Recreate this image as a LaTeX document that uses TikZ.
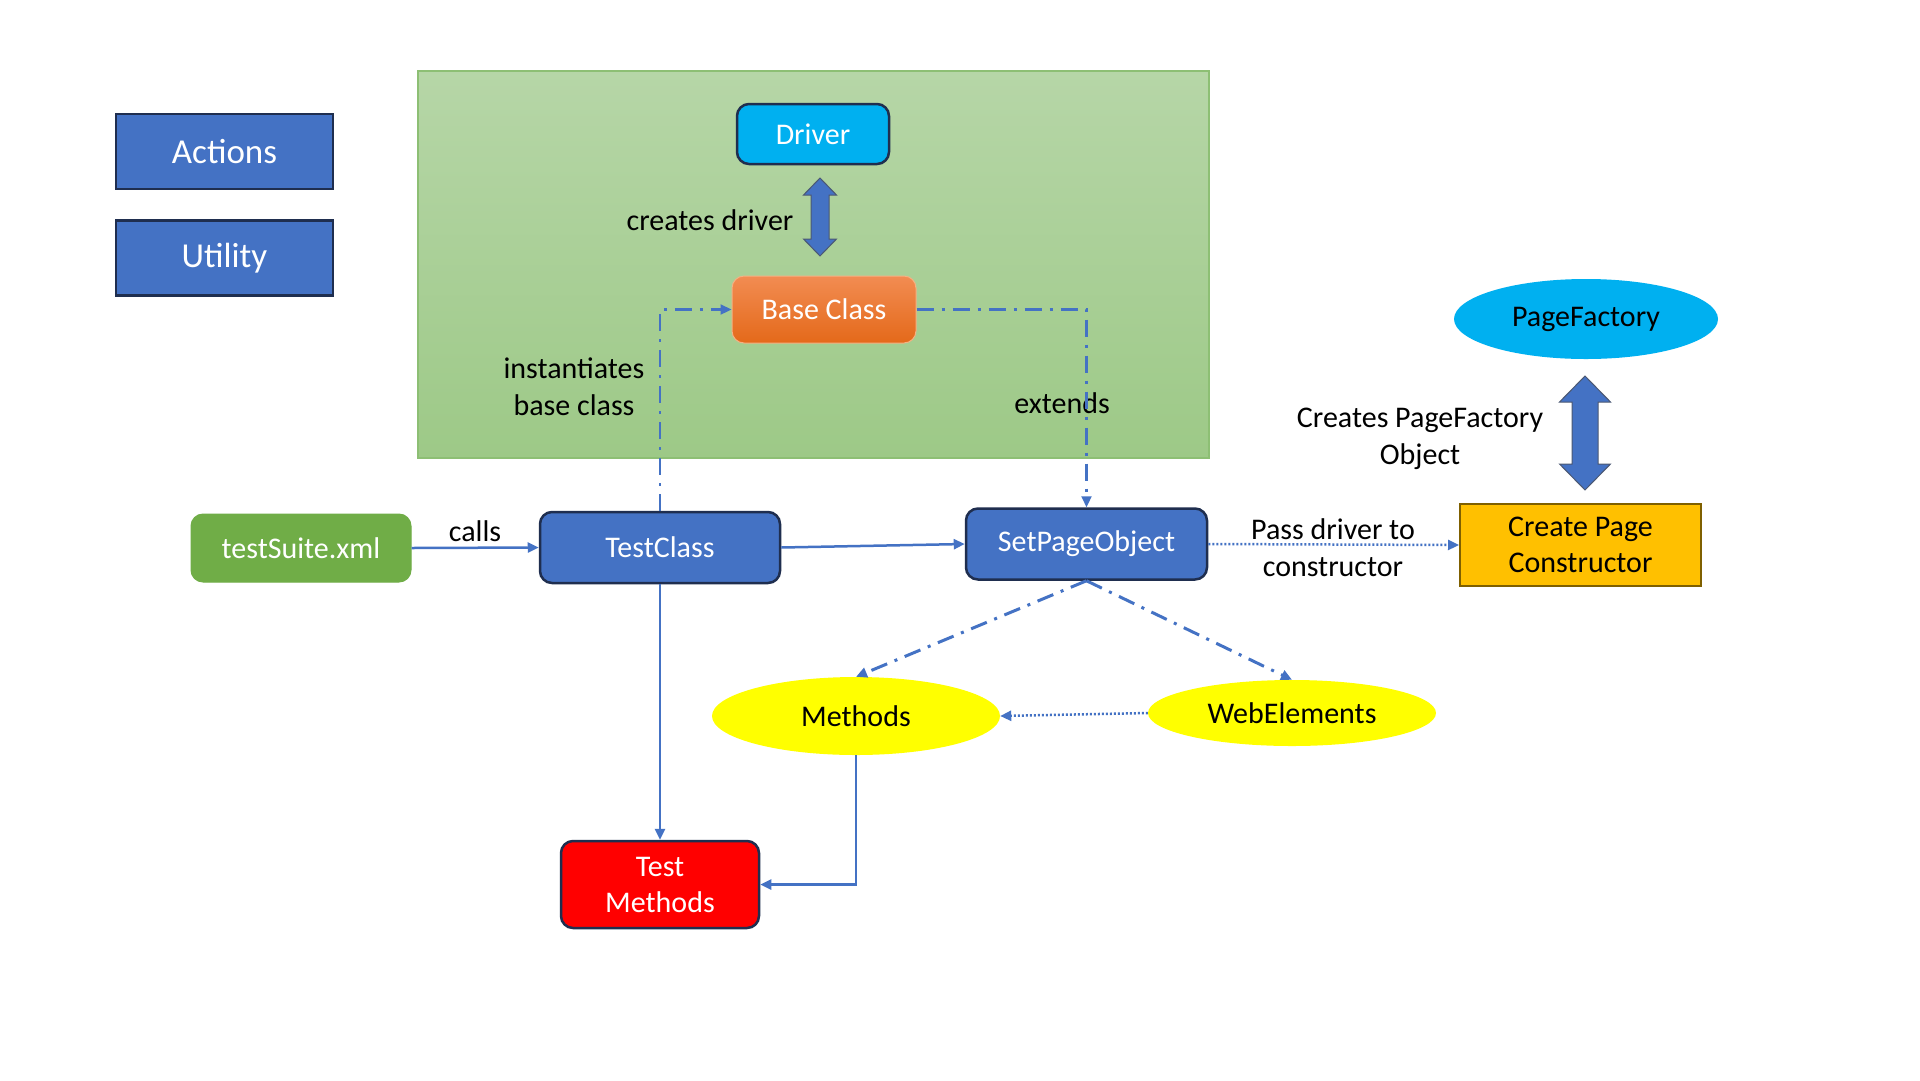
\documentclass[tikz,border=0pt]{standalone}
\usepackage{fontspec}
\setmainfont{Carlito}
\usetikzlibrary{arrows.meta,shapes.geometric}

\definecolor{accblue}{HTML}{4472C4}
\definecolor{navyline}{HTML}{1F2E4F}
\definecolor{skyblue}{HTML}{00B0F0}
\definecolor{leafgreen}{HTML}{70AD47}
\definecolor{panetop}{HTML}{B6D6A7}
\definecolor{panebot}{HTML}{9DC987}
\definecolor{paneline}{HTML}{8DBF74}
\definecolor{orangetop}{HTML}{F28C52}
\definecolor{orangebot}{HTML}{E4691A}
\definecolor{orangeline}{HTML}{F4B183}
\definecolor{gold}{HTML}{FFC000}
\definecolor{goldline}{HTML}{7F6000}
\definecolor{signalred}{HTML}{FF0000}
\definecolor{lemon}{HTML}{FFFF00}

\tikzset{
  txt/.style={font=\fontsize{30}{36}\selectfont},
  box/.style={txt, draw=navyline, line width=2.5pt, text=white, align=center, inner sep=0pt},
  roundbox/.style={box, rounded corners=12pt},
  oval/.style={ellipse, txt, inner sep=0pt, text=black},
  lbl/.style={txt, text=black, align=center, inner sep=0pt},
  conn/.style={draw=accblue, line width=2.5pt, -{Triangle[length=11pt,width=10pt]}},
  dashdot/.style={conn, line width=3pt, dash pattern=on 17pt off 8pt on 3pt off 8pt},
  dotline/.style={conn, line width=2.5pt, dash pattern=on 2pt off 2pt},
  blockarr/.style={fill=accblue, draw=navyline!80, line width=1pt, line join=miter}
}

% vertical two-headed block arrow: x, top y, bottom y, head half width, shaft half width, head length
\newcommand\blockarrow[6]{%
  \path[blockarr] (#1,#2) -- (#1+#4,#2+#6) -- (#1+#5,#2+#6) -- (#1+#5,#3-#6)
    -- (#1+#4,#3-#6) -- (#1,#3) -- (#1-#4,#3-#6) -- (#1-#5,#3-#6)
    -- (#1-#5,#2+#6) -- (#1-#4,#2+#6) -- cycle;}

\begin{document}
\begin{tikzpicture}[x=1pt,y=-1pt]
\useasboundingbox[fill=white] (0,0) rectangle (1920,1080);

% green framework pane
\shade[top color=panetop, bottom color=panebot] (418,71) rectangle (1209,458);
\draw[paneline, line width=1.5pt] (418,71) rectangle (1209,458);

% side legend boxes
\node[box, fill=accblue, minimum width=217pt, minimum height=75pt,
      font=\fontsize{35}{42}\selectfont] (actions) at (224.5,151.5) {Actions};
\node[box, fill=accblue, minimum width=217pt, minimum height=75pt,
      font=\fontsize{35}{42}\selectfont] (utility) at (224.5,258) {Utility};

% nodes
\node[roundbox, fill=skyblue, minimum width=152pt, minimum height=60pt] (driver) at (813,134) {Driver};
\node[roundbox, draw=orangeline, line width=1pt, top color=orangetop, bottom color=orangebot,
      minimum width=184pt, minimum height=67pt] (base) at (824,309.5) {Base Class};
\node[roundbox, draw=leafgreen, line width=1pt, fill=leafgreen,
      minimum width=220pt, minimum height=68pt] (suite) at (301,548) {testSuite.xml};
\node[roundbox, fill=accblue, minimum width=240pt, minimum height=71pt] (testclass) at (660,547.5) {TestClass};
\node[roundbox, fill=accblue, minimum width=241pt, minimum height=71pt] (setpage) at (1086.5,544) {SetPageObject};
\node[box, draw=goldline, line width=2pt, fill=gold, text=black,
      minimum width=241pt, minimum height=82pt] (ctor) at (1580.5,545) {Create Page\\Constructor};
\node[oval, fill=skyblue, minimum width=264pt, minimum height=80pt] (factory) at (1586,319) {PageFactory};
\node[oval, fill=lemon, minimum width=288pt, minimum height=78pt] (methods) at (856,716) {Methods};
\node[oval, fill=lemon, minimum width=288pt, minimum height=66pt] (webel) at (1292,713) {WebElements};
\node[roundbox, fill=signalred, minimum width=198pt, minimum height=87pt] (testmeth) at (660,884.5) {Test\\Methods};

% block arrows
\blockarrow{820}{178}{256}{16.5}{9}{17}
\blockarrow{1585}{376}{490}{25.5}{13}{26}

% labels
\node[lbl] (lcreates) at (710,220) {creates driver};
\node[lbl, font=\fontsize{30}{37}\selectfont] (linst) at (574,387) {instantiates\\base class};
\node[lbl] (lext) at (1062,403) {extends};
\node[lbl] (lcalls) at (475,531) {calls};
\node[lbl, font=\fontsize{30}{37}\selectfont] (lpass) at (1333,548) {Pass driver to\\constructor};
\node[lbl, font=\fontsize{30}{37}\selectfont] (lfact) at (1420,439) {Creates PageFactory\\Object};

% connectors
\draw[conn] (suite.east) -- (testclass.west);
\draw[conn] (testclass.east) -- (setpage.west);
\draw[conn] (testclass.south) -- (testmeth.north);
\draw[conn] (methods.south) |- (testmeth.east);
\draw[dashdot, line width=2.2pt] (testclass.north) |- (base.west);
\draw[dashdot, line width=2.2pt] (base.east) -| (setpage.north);
\draw[dashdot] (setpage.south) -- (methods.north);
\draw[dashdot] (setpage.south) -- (webel.north);
\draw[dotline] (webel.west) -- (methods.east);
\draw[dotline] (setpage.east) -- (ctor.west);
\end{tikzpicture}
\end{document}
